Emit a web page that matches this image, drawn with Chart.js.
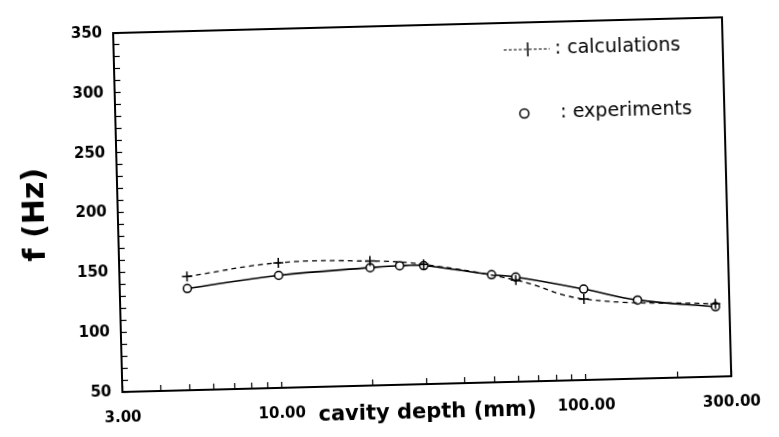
<!DOCTYPE html>
<html lang="en">
<head>
<meta charset="UTF-8" />
<title>f (Hz) - cavity depth</title>
<script src="https://cdn.jsdelivr.net/npm/chart.js"></script>
<style>
  body { margin: 0; background: #fff; }
  /* the scan is slightly tilted, so the whole chart is too */
  .janela { width: 779px; height: 437px; transform: rotate(-1.48deg); transform-origin: 50% 50%; }
</style>
</head>
<body>
<div class="janela"><canvas id="myChart" width="779" height="437"></canvas></div>

<script>
  // calculations (dashed, +)
  var calcDepth = [5, 10, 20, 30, 60, 100, 270];
  var calcFreq = [145, 154.5, 154, 150, 135, 117.7, 110.8];

  // experiments (solid, o)
  var expDepth = [5, 10, 20, 25, 30, 50, 60, 100, 150, 270];
  var expFreq = [135, 144, 148.5, 149.5, 149, 140, 137.5, 126, 115.7, 108.4];

  var xTickValues = [3, 4, 5, 6, 7, 8, 9, 10, 20, 30, 40, 50, 60, 70, 80, 90, 100, 200, 300];
  var xLabelValues = [3, 10, 100, 300];
  var xLabelTexts = ["3.00", "10.00", "100.00", "300.00"];
  var yLabelValues = [50, 100, 150, 200, 250, 300, 350];

  function pontos(xs, ys) {
    var out = [];
    for (var i = 0; i < xs.length; i++) out.push({ x: xs[i], y: ys[i] });
    return out;
  }

  // frame + legend inside the plot
  var moldura = {
    id: "moldura",
    afterDraw: function (chart) {
      var ctx = chart.ctx;
      var ca = chart.chartArea;
      ctx.save();
      ctx.strokeStyle = "#000";
      ctx.lineWidth = 2;
      ctx.strokeRect(ca.left, ca.top, ca.right - ca.left, ca.bottom - ca.top);

      // calculations
      var y1 = ca.top + 27;
      ctx.lineWidth = 1.2;
      ctx.setLineDash([3, 2]);
      ctx.beginPath();
      ctx.moveTo(ca.right - 219, y1);
      ctx.lineTo(ca.right - 173, y1);
      ctx.stroke();
      ctx.setLineDash([]);
      ctx.lineWidth = 1.5;
      ctx.beginPath();
      ctx.moveTo(ca.right - 195, y1 - 7);
      ctx.lineTo(ca.right - 195, y1 + 7);
      ctx.stroke();

      // experiments
      var y2 = ca.top + 91;
      ctx.beginPath();
      ctx.arc(ca.right - 200, y2, 4.5, 0, Math.PI * 2);
      ctx.stroke();

      ctx.fillStyle = "#000";
      ctx.font = "19px 'DejaVu Sans'";
      ctx.textBaseline = "middle";
      ctx.fillText(": calculations", ca.right - 168, y1);
      ctx.fillText(": experiments", ca.right - 164, y2);
      ctx.restore();
    }
  };

  Chart.defaults.font.family = "'DejaVu Sans', sans-serif";
  Chart.defaults.color = "#000";

  const ctx = document.getElementById("myChart");
  new Chart(ctx, {
    type: "line",
    data: {
      datasets: [
        {
          label: "calculations",
          data: pontos(calcDepth, calcFreq),
          borderColor: "#000",
          borderWidth: 1.3,
          borderDash: [5, 4],
          tension: 0.4,
          pointStyle: "cross",
          pointRadius: 5,
          pointBorderWidth: 1.5,
          pointBorderColor: "#000",
          fill: false,
        },
        {
          label: "experiments",
          data: pontos(expDepth, expFreq),
          borderColor: "#000",
          borderWidth: 1.6,
          tension: 0.4,
          pointStyle: "circle",
          pointRadius: 4,
          pointBorderWidth: 1.5,
          pointBorderColor: "#000",
          pointBackgroundColor: "#fff",
          fill: false,
        },
      ],
    },
    options: {
      responsive: false,
      animation: false,
      layout: { padding: { top: 18, right: 42, left: 0, bottom: 0 } },
      plugins: { legend: { display: false }, tooltip: { enabled: false } },
      scales: {
        x: {
          type: "logarithmic",
          min: 3,
          max: 300,
          afterBuildTicks: function (scale) {
            scale.ticks = xTickValues.map(function (v) { return { value: v }; });
          },
          afterFit: function (scale) { scale.height = 52; },
          border: { display: false },
          grid: { drawOnChartArea: false, tickLength: -6, color: "#000", tickWidth: 1.2 },
          ticks: {
            autoSkip: false,
            maxRotation: 0,
            padding: 23,
            font: { size: 15, weight: "bold" },
            callback: function (value) {
              var i = xLabelValues.indexOf(value);
              return i >= 0 ? xLabelTexts[i] : "";
            },
          },
          title: {
            display: true,
            text: "cavity depth (mm)",
            font: { size: 21, weight: "bold" },
            padding: { top: 0, bottom: 11 },
          },
        },
        y: {
          min: 50,
          max: 350,
          afterFit: function (scale) { scale.width = 118; },
          border: { display: false },
          grid: { drawOnChartArea: false, tickLength: -6, color: "#000", tickWidth: 1.2 },
          ticks: {
            stepSize: 10,
            autoSkip: false,
            padding: 17,
            font: { size: 15, weight: "bold" },
            callback: function (value) {
              return yLabelValues.indexOf(value) >= 0 ? String(value) : "";
            },
          },
          title: {
            display: true,
            text: "f (Hz)",
            font: { size: 30, weight: "bold" },
            padding: { top: 18, bottom: 0 },
          },
        },
      },
    },
    plugins: [moldura],
  });
</script>
</body>
</html>
